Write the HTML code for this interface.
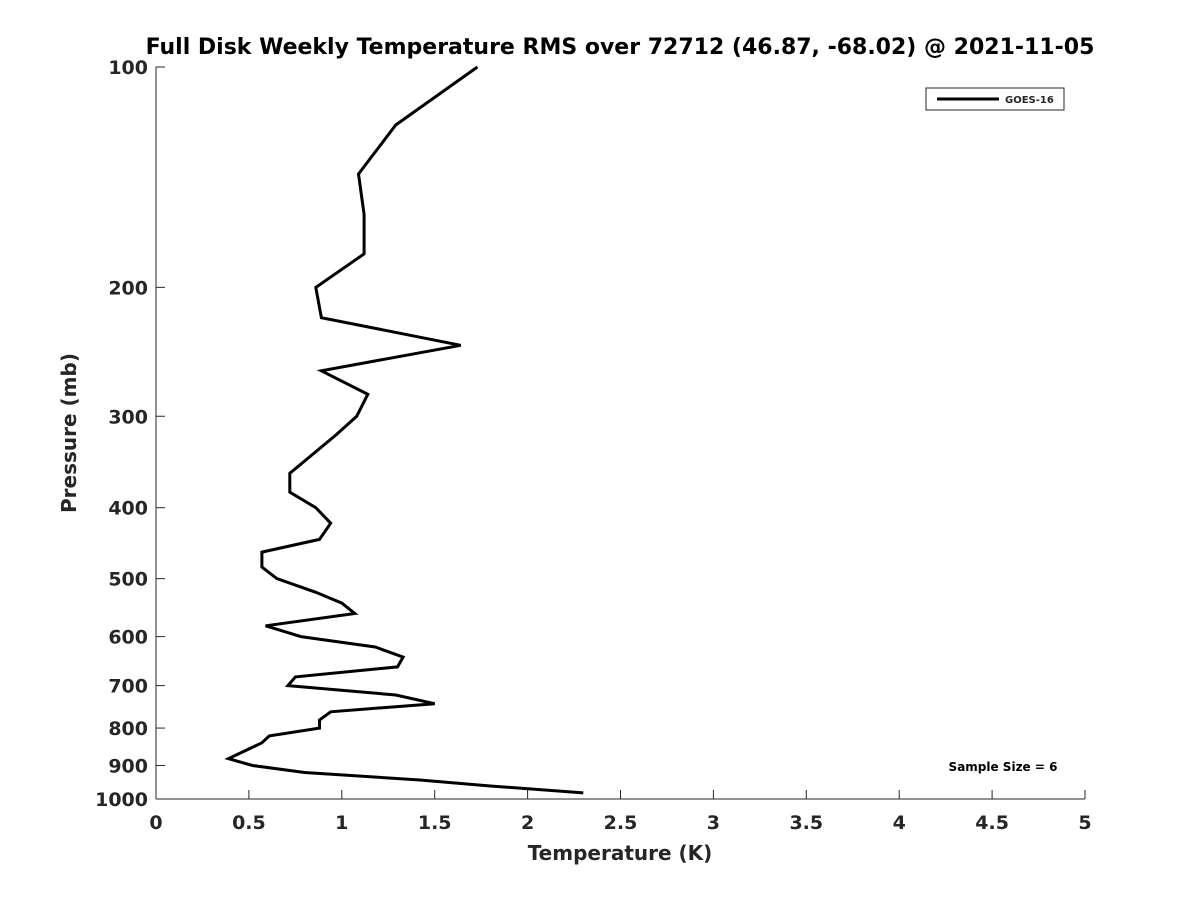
<!DOCTYPE html>
<html><head><meta charset="utf-8"><style>
body{margin:0;background:#fff;font-family:"Liberation Sans","DejaVu Sans",sans-serif}
svg text{font-family:"DejaVu Sans","Liberation Sans",sans-serif;font-weight:bold;fill:#262626}
</style></head><body>
<svg id="chart" width="1200" height="900">
<text x="620" y="54" text-anchor="middle" font-size="22" fill="#000" style="fill:#000">Full Disk Weekly Temperature RMS over 72712 (46.87, -68.02) @ 2021-11-05</text>
<g id="axes"></g>
<g id="series"></g>
<g>
<rect x="926" y="88" width="138" height="22" fill="#fff" stroke="#262626" stroke-width="1"/>
<line x1="937" y1="99" x2="999" y2="99" stroke="#000" stroke-width="3"/>
<text x="1005" y="103" font-size="10">GOES-16</text>
</g>
<text x="1003" y="771" text-anchor="middle" font-size="12" style="fill:#000">Sample Size = 6</text>
<text x="620" y="860" text-anchor="middle" font-size="20">Temperature (K)</text>
<text transform="translate(76,433) rotate(-90)" text-anchor="middle" font-size="20">Pressure (mb)</text>
</svg>
<script>
const xTicks=[0,0.5,1,1.5,2,2.5,3,3.5,4,4.5,5];
const xTickLabels=["0","0.5","1","1.5","2","2.5","3","3.5","4","4.5","5"];
const yTicks=[100,200,300,400,500,600,700,800,900,1000];
const pressures=[100,120,140,159,180,200,220,240,260,280,300,318,359,381,400,420,442,460,482,500,522,540,558,580,600,620,640,660,681,700,721,741,760,780,800,820,838,881,900,920,942,960,981];
const rmsValues=[1.73,1.29,1.09,1.12,1.12,0.86,0.89,1.64,0.89,1.14,1.08,0.97,0.72,0.72,0.86,0.94,0.88,0.57,0.57,0.65,0.86,1.00,1.07,0.59,0.78,1.18,1.33,1.30,0.75,0.71,1.29,1.50,0.94,0.88,0.88,0.61,0.57,0.39,0.52,0.80,1.42,1.80,2.30];
const L=156,R=1085,T=67,B=799;
const xs=v=>L+(v-0)/(5-0)*(R-L);
const ys=p=>T+(Math.log10(p)-2)*(B-T);
const NS="http://www.w3.org/2000/svg";
function mk(tag,attrs,parent){const e=document.createElementNS(NS,tag);for(const k in attrs)e.setAttribute(k,attrs[k]);parent.appendChild(e);return e;}
const ax=document.getElementById('axes');
const xa=mk('line',{x1:L,y1:B,x2:R,y2:B,stroke:'#262626','stroke-width':1},ax);


const ya=mk('line',{x1:L,y1:T,x2:L,y2:B,stroke:'#262626','stroke-width':1},ax);


xTicks.forEach((v,i)=>{
  mk('line',{x1:xs(v),y1:B,x2:xs(v),y2:B-9,stroke:'#262626'},ax);
  const t=mk('text',{x:xs(v),y:B+30,'text-anchor':'middle','font-size':19},ax);
  t.textContent=xTickLabels[i];
  
  
});
yTicks.forEach(p=>{
  mk('line',{x1:L,y1:ys(p),x2:L+9,y2:ys(p),stroke:'#262626'},ax);
  const t=mk('text',{x:L-8,y:ys(p)+7,'text-anchor':'end','font-size':19},ax);
  t.textContent=String(p);
  
  
});
const pts=pressures.map((p,i)=>xs(rmsValues[i]).toFixed(1)+','+ys(p).toFixed(1)).join(' ');
const line=mk('polyline',{points:pts,fill:'none',stroke:'#000','stroke-width':3,'stroke-linejoin':'miter'},document.getElementById('series'));


</script>
</body></html>
